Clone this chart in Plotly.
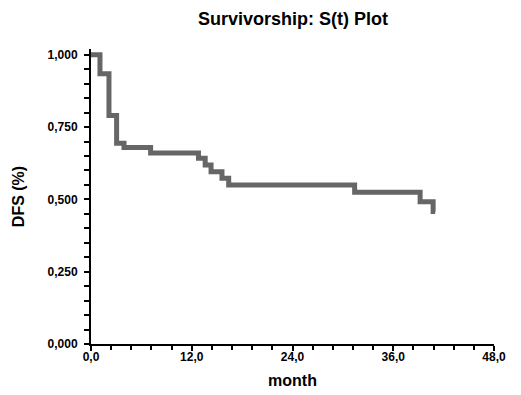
import plotly.graph_objects as go

# Kaplan-Meier step curve (time in months, survival fraction)
times = [0.0, 1.07, 2.14, 3.05, 3.93, 7.1, 12.8, 13.6, 14.3, 15.6, 16.4, 31.4, 39.2, 40.75, 41.0]
surv = [1.000, 0.934, 0.790, 0.694, 0.679, 0.660, 0.642, 0.619, 0.596, 0.573, 0.550, 0.525, 0.492, 0.458, 0.458]

x_ticks = [0, 12, 24, 36, 48]
x_tick_text = ["0,0", "12,0", "24,0", "36,0", "48,0"]
y_ticks = [0, 0.25, 0.5, 0.75, 1.0]
y_tick_text = ["0,000", "0,250", "0,500", "0,750", "1,000"]

font_family = "Liberation Sans, Arial, sans-serif"

fig = go.Figure()
fig.add_trace(go.Scatter(
    x=times, y=surv, mode="lines", line_shape="hv",
    line=dict(color="#666666", width=5), showlegend=False,
))

fig.update_layout(
    width=521, height=395,
    margin=dict(l=83, r=35, t=41, b=59),
    paper_bgcolor="white", plot_bgcolor="white",
    title=dict(text="Survivorship: S(t) Plot", x=0.547, xanchor="center",
               y=0.972, yanchor="middle",
               font=dict(family=font_family, size=18, color="black", weight="bold")),
    font=dict(family=font_family, size=12, color="black", weight="bold"),
)
fig.update_xaxes(
    range=[0, 48], tickvals=x_ticks, ticktext=x_tick_text, automargin=False,
    showgrid=False, zeroline=False, showline=True, linecolor="black", linewidth=2,
    ticks="outside", ticklen=5, tickwidth=2, tickcolor="black",
    minor=dict(dtick=2.4, ticks="outside", ticklen=4, tickwidth=2, tickcolor="black"),
    title=dict(text="month", font=dict(size=16, weight="bold"), standoff=11),
    tickfont=dict(size=12, weight="bold"), ticklabelstandoff=-4,
)
fig.update_yaxes(
    range=[0, 1.02], tickvals=y_ticks, ticktext=y_tick_text, automargin=False,
    showgrid=False, zeroline=False, showline=True, linecolor="black", linewidth=2,
    ticks="outside", ticklen=5, tickwidth=2, tickcolor="black",
    minor=dict(tickvals=[i * 0.05 for i in range(21)], ticks="outside", ticklen=5, tickwidth=2, tickcolor="black"),
    title=dict(text="DFS (%)", font=dict(size=16, weight="bold"), standoff=19),
    tickfont=dict(size=12, weight="bold"), ticklabelstandoff=4,
)

fig.write_html("out.html")
